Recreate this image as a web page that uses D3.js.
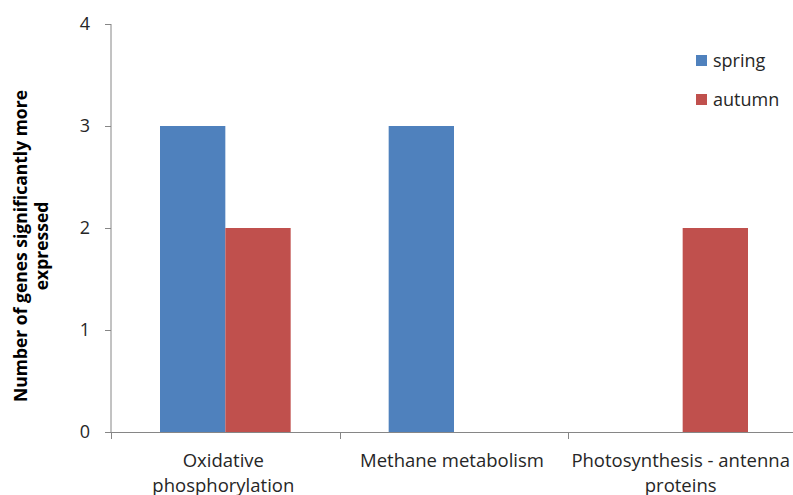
<!DOCTYPE html>
<html>
<head>
<meta charset="utf-8">
<script src="https://cdn.jsdelivr.net/npm/d3@7"></script>
<style>
  html, body { margin: 0; padding: 0; background: #fff; }
  svg { display: block; }
  text { font-family: "Open Sans", "Liberation Sans", sans-serif; fill: #262626; }
</style>
</head>
<body>
<svg id="chart" width="793" height="495"></svg>
<script>
// Pathways and the number of significantly up-regulated genes per season
const categories = [
  ["Oxidative", "phosphorylation"],
  ["Methane metabolism"],
  ["Photosynthesis - antenna", "proteins"]
];
const seasons = ["spring", "autumn"];
const springValues = [3, 3, 0];
const autumnValues = [2, 0, 2];
const yTicks = [0, 1, 2, 3, 4];
const seasonColors = ["#4F81BD", "#C0504D"];

const svg = d3.select("#chart");
const margin = { left: 111, right: -4, top: 24, bottom: 63 };
const W = 793, H = 495;
const plotW = W - margin.left - margin.right;
const plotH = H - margin.top - margin.bottom;

const g = svg.append("g").attr("transform", `translate(${margin.left},${margin.top})`);

const catKeys = categories.map(c => c.join(" "));
const x0 = d3.scaleBand().domain(catKeys).range([0, plotW]).paddingInner(0).paddingOuter(0);
const x1 = d3.scaleBand().domain(seasons).range([0, x0.bandwidth()]).paddingOuter(0.75).paddingInner(0);
const y = d3.scaleLinear().domain([0, 4]).range([plotH, 0]);

// Bars
const rows = catKeys.map((k, i) => ({ key: k, values: [springValues[i], autumnValues[i]] }));
const groups = g.selectAll("g.cat").data(rows).join("g")
  .attr("class", "cat")
  .attr("transform", d => `translate(${x0(d.key)},0)`);
groups.selectAll("rect").data(d => d.values.map((v, j) => ({ s: seasons[j], v, j })))
  .join("rect")
  .attr("x", d => x1(d.s))
  .attr("width", x1.bandwidth())
  .attr("y", d => y(d.v))
  .attr("height", d => plotH - y(d.v))
  .attr("fill", d => seasonColors[d.j]);

// Y axis
const yAxis = g.append("g").call(d3.axisLeft(y).tickValues(yTicks).tickSize(6).tickPadding(15).tickFormat(d3.format("d")));
yAxis.select(".domain").attr("stroke", "#868686").attr("d", `M0,${plotH}V0`);
yAxis.selectAll(".tick line").attr("stroke", "#868686");
yAxis.selectAll(".tick text").attr("font-size", 18).attr("fill", "#262626")
  .style("font-family", "'Open Sans', sans-serif");

// X axis
const xAxis = g.append("g").attr("transform", `translate(0,${plotH})`);
xAxis.append("line").attr("x1", 0).attr("x2", plotW).attr("y1", 0.5).attr("y2", 0.5).attr("stroke", "#868686");
const boundaries = d3.range(catKeys.length + 1).map(i => i * x0.step());
xAxis.selectAll("line.tk").data(boundaries).join("line").attr("class", "tk")
  .attr("x1", d => Math.round(d) + 0.5).attr("x2", d => Math.round(d) + 0.5)
  .attr("y1", 0).attr("y2", 7).attr("stroke", "#868686");
xAxis.selectAll("text.cl").data(categories).join("text").attr("class", "cl")
  .attr("text-anchor", "middle")
  .attr("font-size", 18.5)
  .attr("x", (d, i) => x0(catKeys[i]) + x0.bandwidth() / 2 - 2)
  .attr("y", 35)
  .selectAll("tspan").data(d => d).join("tspan")
  .attr("x", function() { return this.parentNode.getAttribute("x"); })
  .attr("dy", (d, i) => i === 0 ? 0 : 25)
  .text(d => d);

// Y axis title
svg.append("text")
  .attr("transform", "translate(27,246) rotate(-90)")
  .attr("text-anchor", "middle")
  .attr("font-size", 17.5)
  .attr("font-weight", "bold")
  .attr("fill", "#000")
  .selectAll("tspan").data(["Number of genes significantly more", "expressed"]).join("tspan")
  .attr("x", 0)
  .attr("dy", (d, i) => i === 0 ? 0 : 21)
  .style("fill", "#000")
  .text(d => d);

// Legend
const legend = svg.append("g").attr("transform", "translate(696,55)");
const li = legend.selectAll("g").data(seasons).join("g")
  .attr("transform", (d, i) => `translate(0,${i * 39})`);
li.append("rect").attr("width", 11).attr("height", 11).attr("fill", (d, i) => seasonColors[i]);
li.append("text").attr("x", 17).attr("y", 11.5).attr("font-size", 18).text(d => d);
</script>
</body>
</html>
